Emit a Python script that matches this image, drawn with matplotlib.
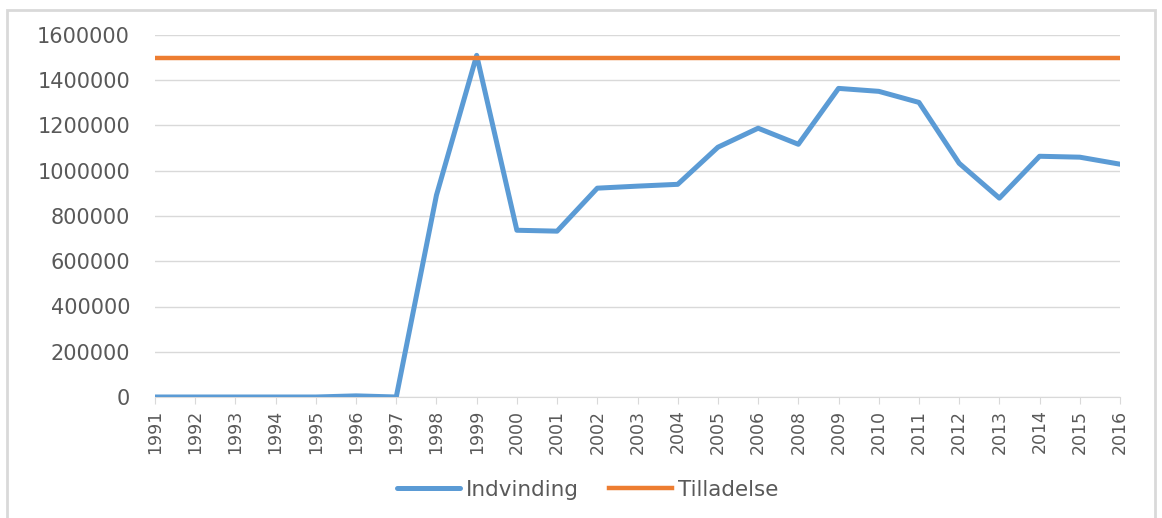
import matplotlib.pyplot as plt
from matplotlib.patches import Rectangle

years = ['1991', '1992', '1993', '1994', '1995', '1996', '1997', '1998', '1999',
         '2000', '2001', '2002', '2003', '2004', '2005', '2006', '2008', '2009',
         '2010', '2011', '2012', '2013', '2014', '2015', '2016']
indvinding = [0, 0, 0, 0, 0, 5000, 0, 892000, 1510000,
              737000, 733000, 923000, 932000, 940000, 1104000, 1188000, 1117000, 1364000,
              1351000, 1302000, 1033000, 879000, 1064000, 1060000, 1029000]
tilladelse = [1500000] * len(years)

W, H = 1162, 518
fig = plt.figure(figsize=(W / 100, H / 100), dpi=100)
ax = fig.add_axes([155 / W, 1 - 397 / H, (1120 - 155) / W, (397 - 35) / H])

x = list(range(len(years)))
ax.plot(x, indvinding, color='#5b9bd5', lw=3.6, solid_capstyle='round',
        solid_joinstyle='round', label='Indvinding', zorder=3)
ax.plot(x, tilladelse, color='#ed7d31', lw=3.2, label='Tilladelse', zorder=3)

ax.set_xlim(0, len(years) - 1)
ax.set_ylim(0, 1600000)
ax.set_yticks(range(0, 1600001, 200000))
ax.set_yticklabels([str(v) for v in range(0, 1600001, 200000)],
                   fontsize=15, color='#595959', family='DejaVu Sans')
ax.set_xticks(x)
ax.set_xticklabels(years, rotation=90, fontsize=12.5, color='#595959',
                   family='DejaVu Sans')
ax.grid(axis='y', color='#d9d9d9', lw=1)
ax.set_axisbelow(True)
for s in ['top', 'right', 'left']:
    ax.spines[s].set_visible(False)
ax.spines['bottom'].set_color('#d9d9d9')
ax.tick_params(axis='y', length=0, pad=18)
ax.tick_params(axis='x', length=5, color='#d9d9d9', pad=4)

leg = fig.legend(loc='center', bbox_to_anchor=(588 / W, 1 - 490 / H),
                 ncol=2, frameon=False, fontsize=15.5, handlelength=2.9,
                 columnspacing=1.4, handletextpad=0.3)
for t in leg.get_texts():
    t.set_color('#595959')

fig.patches.append(Rectangle((7 / W, -0.05), (1155 - 7) / W, 1.05 - 10 / H,
                             transform=fig.transFigure, fill=False,
                             edgecolor='#d9d9d9', lw=2))

fig.savefig('out.png', dpi=100)
